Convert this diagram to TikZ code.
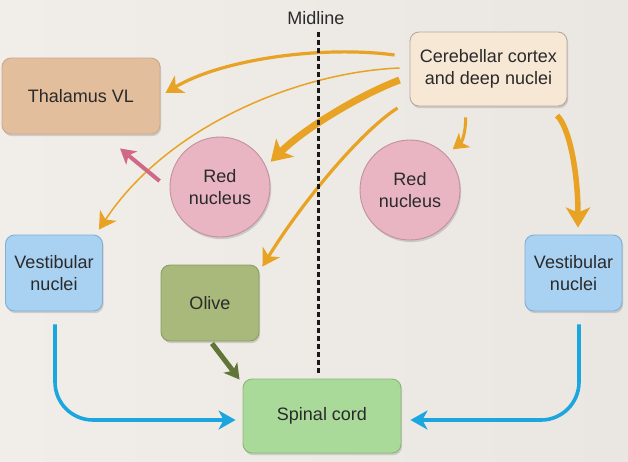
\documentclass[tikz,border=0pt]{standalone}
\usepackage{fontspec}
\setmainfont{Liberation Sans}
\usetikzlibrary{arrows.meta,shadows,calc}
\definecolor{bgL}{HTML}{F1EEE9}
\definecolor{bgR}{HTML}{EAE6E1}
\definecolor{txt}{HTML}{2A2A2A}
\definecolor{thalF}{HTML}{E2BE9C}
\definecolor{thalD}{HTML}{C9A98B}
\definecolor{cbF}{HTML}{F7E7D5}
\definecolor{cbD}{HTML}{B8AA9C}
\definecolor{rnF}{HTML}{E9B5C2}
\definecolor{rnD}{HTML}{C3909E}
\definecolor{vnF}{HTML}{A9D1F2}
\definecolor{vnD}{HTML}{7FAED6}
\definecolor{olF}{HTML}{A9B97B}
\definecolor{olD}{HTML}{8C9C62}
\definecolor{scF}{HTML}{AADA9A}
\definecolor{scD}{HTML}{88B67A}
\definecolor{orng}{HTML}{E8A224}
\definecolor{blu}{HTML}{1BA6E0}
\definecolor{pnk}{HTML}{D06888}
\definecolor{olv}{HTML}{627538}
\begin{document}
\begin{tikzpicture}[x=1pt,y=-1pt,
  every node/.style={font=\fontsize{18}{21.5}\selectfont, text=txt, align=center},
  box/.style={rectangle, rounded corners=9pt, line width=0.9pt, inner sep=2pt,
    drop shadow={shadow xshift=1.2pt, shadow yshift=-2.2pt, opacity=0.3}},
  rn/.style={circle, minimum size=100pt, inner sep=0pt, fill=rnF, draw=rnD, line width=0.9pt,
    drop shadow={shadow xshift=1.2pt, shadow yshift=-2.2pt, opacity=0.3}},
  oarr/.style={draw=orng, -{Stealth[length=17pt, width=20pt, inset=5pt]}},
  barr/.style={draw=blu, line width=3.6pt, rounded corners=38pt, -{Stealth[length=17pt, width=19pt, inset=5pt]}},
  midl/.style={draw=black!90, line width=3pt, dash pattern=on 5pt off 3pt}
]
\useasboundingbox (0,0) rectangle (628,461);
\shade[left color=bgL, right color=bgR] (0,0) rectangle (628,461);

% nodes
\node[box, fill=thalF, draw=thalD, minimum width=158pt, minimum height=76pt] (thal) at (81,96) {Thalamus VL};
\node[box, fill=cbF, draw=cbD, minimum width=157pt, minimum height=74pt] (cb) at (488.5,69) {Cerebellar cortex\\and deep nuclei};
\node[rn] (rnL) at (220,187) {Red\\nucleus};
\node[rn] (rnR) at (410,190) {Red\\nucleus};
\node[box, fill=vnF, draw=vnD, minimum width=97pt, minimum height=76pt] (vnL) at (54,273) {Vestibular\\nuclei};
\node[box, fill=vnF, draw=vnD, minimum width=97pt, minimum height=76pt] (vnR) at (573.5,273) {Vestibular\\nuclei};
\node[box, fill=olF, draw=olD, minimum width=98pt, minimum height=76pt] (olive) at (210,303) {Olive};
\node[box, fill=scF, draw=scD, minimum width=158pt, minimum height=74pt] (sc) at (322,416) {Spinal cord};
\node[inner sep=1pt] (mid) at (316,18) {Midline};

% orange projections
\draw[oarr, line width=3.2pt] ($(cb.west)+(-15,-14)$) .. controls (320,45) and (220,60) .. ($(thal.east)+(5,-3)$);
\draw[oarr, line width=1.5pt] ($(cb.west)+(-10,-1)$) .. controls (300,72) and (168,125) .. ($(vnL.north east)+(-4,-5)$);
\draw[oarr, line width=7pt, -{Stealth[length=20pt, width=25pt, inset=5pt]}] ($(cb.west)+(-10,11)$) .. controls (360,95) and (305,128) .. ($(rnL.30)+(7,0)$);
\draw[oarr, line width=3.2pt] ($(cb.west)+(-12,39)$) .. controls (360,132) and (300,205) .. ($(olive.north east)+(3,2)$);
\draw[oarr, line width=3pt, -{Stealth[length=15pt, width=18pt, inset=4pt]}] ($(cb.south)+(-23,11)$) .. controls (466,132) and (462,142) .. ($(rnR.45)+(7,-5)$);
\draw[oarr, line width=5.5pt, -{Stealth[length=20pt, width=24pt, inset=5pt]}] ($(cb.south)+(68.5,9)$) .. controls (570,128) and (578,175) .. ($(vnR.north)+(4.5,-7)$);

% other projections
\draw[draw=pnk, line width=4pt, -{Stealth[length=15pt, width=17pt, inset=4pt]}] ($(rnL.west)+(-10,-6)$) -- ($(thal.south)+(39,14)$);
\draw[draw=olv, line width=5pt, -{Stealth[length=15pt, width=17pt, inset=4pt]}] ($(olive.south)+(2,2)$) -- ($(sc.north west)+(-3,1)$);
\draw[barr] ($(vnL.south)+(1,13)$) |- ($(sc.west)+(-7,4)$);
\draw[barr] ($(vnR.south)+(5.5,13)$) |- ($(sc.east)+(9,4)$);

% midline
\coordinate (mbot) at (318,375);
\draw[midl] ($(mid.south)+(2,6)$) -- (mbot);
\end{tikzpicture}
\end{document}
